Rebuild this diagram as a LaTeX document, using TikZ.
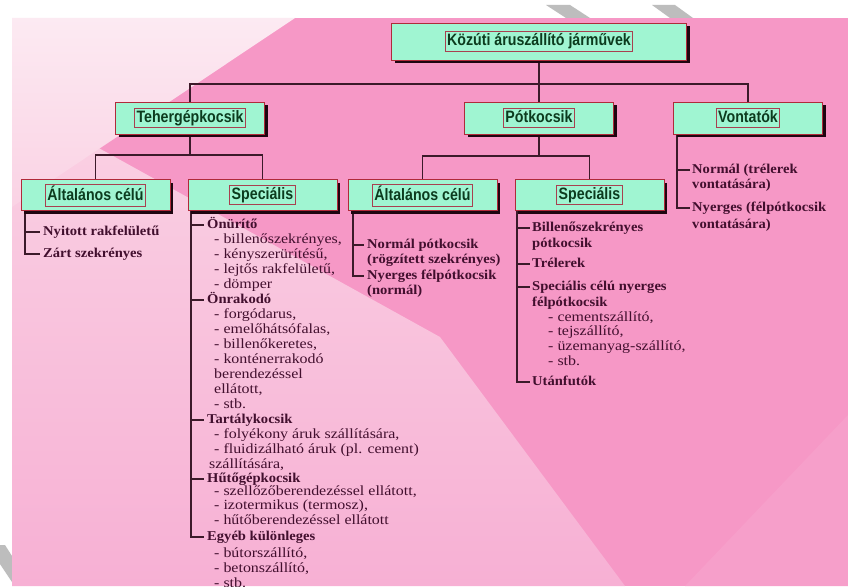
\documentclass[tikz,border=0pt]{standalone}
\usepackage{fontspec}
\setmainfont{Liberation Serif}
\newfontfamily\boxfont[FakeStretch=0.86]{Liberation Sans}
\newfontfamily\bodyfont[FakeStretch=1.08]{Liberation Serif}
\newfontfamily\subfont[FakeStretch=1.14]{Liberation Serif}
\usetikzlibrary{shadows,calc}
\definecolor{mint}{HTML}{A0F5D2}
\definecolor{boxred}{HTML}{B02A3A}
\definecolor{framered}{HTML}{A84050}
\definecolor{boxtext}{HTML}{0C3B1E}
\definecolor{bodytxt}{HTML}{420F2E}
\definecolor{linec}{HTML}{3C1A2A}
\definecolor{shadowc}{HTML}{1E0510}
\definecolor{pinkbase}{HTML}{F698C6}
\definecolor{pinklight}{HTML}{F7B0D4}
\definecolor{pinkpale}{HTML}{FAD2E4}
\definecolor{whitepink}{HTML}{FCEAF2}
\definecolor{stripegray}{HTML}{BDBDBD}
\newcommand\tfr[1]{{\setlength{\fboxsep}{1.5pt}\setlength{\fboxrule}{0.8pt}\fcolorbox{framered}{mint}{\vphantom{Tg}#1}}}
\pgfdeclarelayer{bg}
\pgfdeclarelayer{lines}
\pgfsetlayers{bg,lines,main}
\begin{document}
\begin{tikzpicture}[x=1pt,y=-1pt,
  bx/.style={draw=boxred, line width=0.8pt, fill=mint,
    general shadow={fill=shadowc, shadow xshift=3pt, shadow yshift=-3pt},
    minimum width=149, minimum height=31, inner sep=0pt,
    font=\boxfont\fontsize{16.5}{19}\selectfont\bfseries, text=boxtext},
  hd/.style={anchor=west, inner sep=0pt, text=bodytxt,
    font=\bodyfont\fontsize{13.5}{15}\selectfont\bfseries,
    text height=9.5pt, text depth=2.5pt},
  sb/.style={hd, font=\subfont\fontsize{14}{15}\selectfont},
  conn/.style={draw=linec, line width=1.7pt}]
\useasboundingbox (0,0) rectangle (848,586);

% ---------- boxes ----------
\node[bx, minimum width=295, minimum height=37] (root) at (539,41.5) {\tfr{Közúti áruszállító járművek}};
\node[bx, minimum height=32] (teher) at (190,118) {\tfr{Tehergépkocsik}};
\node[bx, minimum height=32] (pot) at (539,118) {\tfr{Pótkocsik}};
\node[bx, minimum height=32] (vont) at (748,118) {\tfr{Vontatók}};
\node[bx] (altL) at (95.5,195) {\tfr{Általános célú}};
\node[bx] (specL) at (262.5,195) {\tfr{Speciális}};
\node[bx] (altM) at (422.5,195) {\tfr{Általános célú}};
\node[bx] (specM) at (589.5,195) {\tfr{Speciális}};

% ---------- list: Általános célú (left) ----------
\node[hd] (aL1) at (43,232) {Nyitott rakfelületű};
\node[hd] (aL2) at (43,254) {Zárt szekrényes};

% ---------- list: Speciális (left) ----------
\node[hd] (sL1) at (207,225) {Önürítő};
\node[sb] (sL1a) at (214,240) {- billenőszekrényes,};
\node[sb] (sL1b) at (214,255) {- kényszerürítésű,};
\node[sb] (sL1c) at (214,270) {- lejtős rakfelületű,};
\node[sb] (sL1d) at (214,285) {- dömper};
\node[hd] (sL2) at (207,300) {Önrakodó};
\node[sb] (sL2a) at (214,315) {- forgódarus,};
\node[sb] (sL2b) at (214,330) {- emelőhátsófalas,};
\node[sb] (sL2c) at (214,345) {- billenőkeretes,};
\node[sb] (sL2d) at (214,360) {- konténerrakodó};
\node[sb] (sL2e) at (214,375) {berendezéssel};
\node[sb] (sL2f) at (214,390) {ellátott,};
\node[sb] (sL2g) at (214,405) {- stb.};
\node[hd] (sL3) at (207,420) {Tartálykocsik};
\node[sb] (sL3a) at (214,435) {- folyékony áruk szállítására,};
\node[sb] (sL3b) at (214,450) {- fluidizálható áruk (pl. cement)};
\node[sb] (sL3c) at (209,465) {szállítására,};
\node[hd] (sL4) at (207,479) {Hűtőgépkocsik};
\node[sb] (sL4a) at (214,492) {- szellőzőberendezéssel ellátott,};
\node[sb] (sL4b) at (214,506) {- izotermikus (termosz),};
\node[sb] (sL4c) at (214,521) {- hűtőberendezéssel ellátott};
\node[hd] (sL5) at (207,537) {Egyéb különleges};
\node[sb] (sL5a) at (214,554) {- bútorszállító,};
\node[sb] (sL5b) at (214,569) {- betonszállító,};
\node[sb] (sL5c) at (214,584) {- stb.};

% ---------- list: Általános célú (middle) ----------
\node[hd] (aM1) at (367,245) {Normál pótkocsik};
\node[hd] (aM1a) at (367,260) {(rögzített szekrényes)};
\node[hd] (aM2) at (367,276) {Nyerges félpótkocsik};
\node[hd] (aM2a) at (367,291) {(normál)};

% ---------- list: Speciális (middle) ----------
\node[hd] (sM1) at (532,228) {Billenőszekrényes};
\node[hd] (sM1a) at (532,244) {pótkocsik};
\node[hd] (sM2) at (532,264) {Trélerek};
\node[hd] (sM3) at (532,287) {Speciális célú nyerges};
\node[hd] (sM3a) at (532,303) {félpótkocsik};
\node[sb] (sM3b) at (548,318) {- cementszállító,};
\node[sb] (sM3c) at (548,332) {- tejszállító,};
\node[sb] (sM3d) at (548,347) {- üzemanyag-szállító,};
\node[sb] (sM3e) at (548,362) {- stb.};
\node[hd] (sM4) at (532,382) {Utánfutók};

% ---------- list: Vontatók ----------
\node[hd] (v1) at (692,170) {Normál (trélerek};
\node[hd] (v1a) at (692,185) {vontatására)};
\node[hd] (v2) at (692,208) {Nyerges (félpótkocsik};
\node[hd] (v2a) at (692,225) {vontatására)};

% ---------- connectors ----------
\coordinate (J1) at (0,84);
\coordinate (J2) at (0,155);
\coordinate (J3) at (0,156);
\coordinate (xAL) at (25,0);
\coordinate (xSL) at (191,0);
\coordinate (xAM) at (353,0);
\coordinate (xSM) at (517,0);
\coordinate (xV) at (677,0);
\coordinate (AL) at (altL.south -| xAL);
\coordinate (SL) at (specL.south -| xSL);
\coordinate (AM) at (altM.south -| xAM);
\coordinate (SM) at (specM.south -| xSM);
\coordinate (VV) at (vont.south -| xV);

\begin{pgfonlayer}{lines}
\draw[conn] (root.south) -- (pot.north);
\draw[conn] (teher.north) -- (teher.north |- J1) -- (vont.north |- J1) -- (vont.north);
\draw[conn] (teher.south) -- (teher.south |- J2);
\draw[conn] (altL.north) -- (altL.north |- J2) -- (specL.north |- J2) -- (specL.north);
\draw[conn] (pot.south) -- (pot.south |- J3);
\draw[conn] (altM.north) -- (altM.north |- J3) -- (specM.north |- J3) -- (specM.north);

\draw[conn] (AL) -- (AL |- aL2.west) -- ([xshift=-3pt]aL2.west);
\draw[conn] (AL |- aL1.west) -- ([xshift=-3pt]aL1.west);

\draw[conn] (SL) -- (SL |- sL5.west) -- ([xshift=-3pt]sL5.west);
\foreach \n in {sL1,sL2,sL3,sL4}
  \draw[conn] (SL |- \n.west) -- ([xshift=-3pt]\n.west);

\draw[conn] (AM) -- (AM |- aM2.west) -- ([xshift=-3pt]aM2.west);
\draw[conn] (AM |- aM1.west) -- ([xshift=-3pt]aM1.west);

\draw[conn] (SM) -- (SM |- sM4.west) -- ([xshift=-2pt]sM4.west);
\foreach \n in {sM1,sM2,sM3}
  \draw[conn] (SM |- \n.west) -- ([xshift=-2pt]\n.west);

\draw[conn] (VV) -- (VV |- v2.west) -- ([xshift=-2pt]v2.west);
\draw[conn] (VV |- v1.west) -- ([xshift=-2pt]v1.west);
\end{pgfonlayer}

% ---------- background ----------
\begin{pgfonlayer}{bg}
\fill[white] (0,0) rectangle (848,586);
\fill[stripegray] (546,5) -- (570,5) -- (590,18) -- (566,18) -- cycle;
\fill[stripegray] (652,5) -- (675,5) -- (693,18) -- (670,18) -- cycle;
\fill[stripegray] (0,545) -- (5,545) -- (12,556) -- (12,582) -- (0,564) -- cycle;
\fill[pinkbase] (12,18) rectangle (848,586);
\shade[top color=pinkpale, bottom color=pinklight] (12,100) -- (440,337) -- (625,586) -- (12,586) -- cycle;
\fill[pinklight!30!pinkbase] (848,415) -- (848,586) -- (685,586) -- cycle;
\shade[top color=whitepink, bottom color=pinkpale] (12,18) -- (295,18) -- (12,207) -- cycle;
\end{pgfonlayer}
\end{tikzpicture}
\end{document}
